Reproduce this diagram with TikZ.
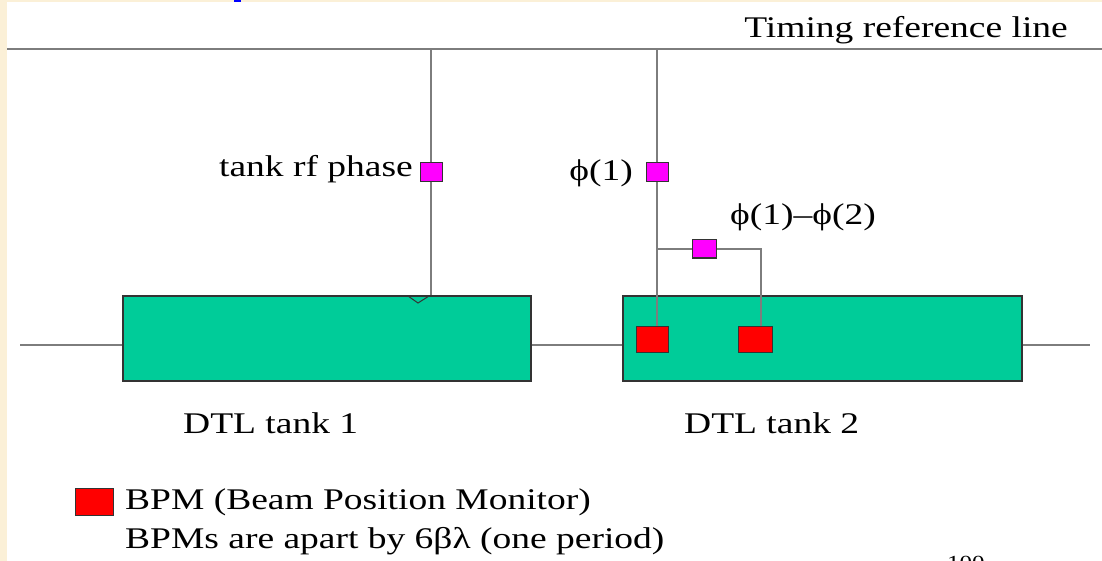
\documentclass[tikz,border=0pt]{standalone}
\usepackage{fontspec}
\setmainfont{Liberation Serif}[FakeStretch=1.25]
\usetikzlibrary{positioning}
\definecolor{tankgreen}{RGB}{0,204,153}
\definecolor{slidecream}{RGB}{251,240,215}
\definecolor{wiregray}{RGB}{125,125,125}
\definecolor{pickup}{RGB}{255,0,255}
\definecolor{bpmred}{RGB}{255,0,0}

\begin{document}
\begin{tikzpicture}[x=1pt, y=-1pt, font=\fontsize{30}{36}\selectfont,
  wire/.style = {draw=wiregray, line width=1.6pt},
  tank/.style = {draw=black!80, fill=tankgreen, line width=1.2pt, minimum height=85pt},
  bpm/.style = {draw=black!80, fill=bpmred, line width=1pt, minimum width=32pt, minimum height=26pt, inner sep=0pt},
  phase/.style = {draw=black!80, fill=pickup, line width=1pt, minimum width=22pt, minimum height=19pt, inner sep=0pt},
  txt/.style = {inner sep=0pt}]
        \useasboundingbox (0,0) rectangle (1102,561);
        \fill[slidecream] (0,0) rectangle (1102,561);
        \fill[white] (7,2) rectangle (1102,561);
        \fill[blue] (234,0) rectangle (241,2);
        % timing reference
        \coordinate (tw) at (7,49);
        \coordinate (te) at (1102,49);
        \draw[wire] (tw) -- (te);
        \node[txt, anchor=base east] (tref) at (1068,38) {Timing reference line};
        % beam line and tanks
        \coordinate (bw) at (20,345);
        \coordinate (be) at (1090,345);
        \node[tank, minimum width=408pt] (tank1) at (327,338.5) {};
        \node[tank, minimum width=399pt] (tank2) at (822.5,338.5) {};
        \draw[wire] (bw) -- (bw -| tank1.west);
        \draw[wire] (tank1.east |- bw) -- (tank2.west |- bw);
        \draw[wire] (tank2.east |- bw) -- (be);
        \node[bpm] (bpm1) at (652,339) {};
        \node[bpm, minimum width=34pt] (bpm2) at (755,339) {};
        % phase pick-ups
        \node[phase] (ph1) at (431,172.5) {};
        \node[phase] (ph2) at (657,172.5) {};
        \node[phase, minimum width=24pt, minimum height=18pt] (ph3) at (704,249) {};
        \draw[wire] (ph1.north) -- (ph1.north |- tw);
        \draw[wire] (ph1.south) -- (ph1.south |- tank1.north);
        \draw[black!80, line width=1pt] (408,296) -- (418,303) -- (429,296);
        \draw[wire] (ph2.north) -- (ph2.north |- tw);
        \draw[wire] (ph2.south) -- (ph2.south |- bpm1.north);
        \coordinate (tap) at (657,249);
        \coordinate (bend) at (761,249);
        \draw[wire] (tap) -- (ph3.west);
        \draw[wire] (ph3.east) -- (bend) -- (bend |- bpm2.north);
        % labels
        \node[txt, anchor=base east] (rflab) at (413,177) {tank rf phase};
        \node[txt, anchor=base east] (phi1lab) at (633,181) {ϕ(1)};
        \node[txt, anchor=base west] (difflab) at (730,225) {ϕ(1)–ϕ(2)};
        \node[txt, anchor=base west] (t1lab) at (183,433) {DTL tank 1};
        \node[txt, anchor=base west] (t2lab) at (684,433) {DTL tank 2};
        % legend
        \node[bpm, minimum width=38pt, minimum height=27pt] (key) at (94,501.5) {};
        \node[txt, anchor=base west] (keylab) at (125,509) {BPM (Beam Position Monitor)};
        \node[txt, anchor=base west] (keynote) at (125,548) {BPMs are apart by 6βλ (one period)};
        \node[txt, anchor=north west, font=\fontsize{20}{24}\selectfont] (pagenum) at (947,556) {100};
    \end{tikzpicture}
\end{document}
